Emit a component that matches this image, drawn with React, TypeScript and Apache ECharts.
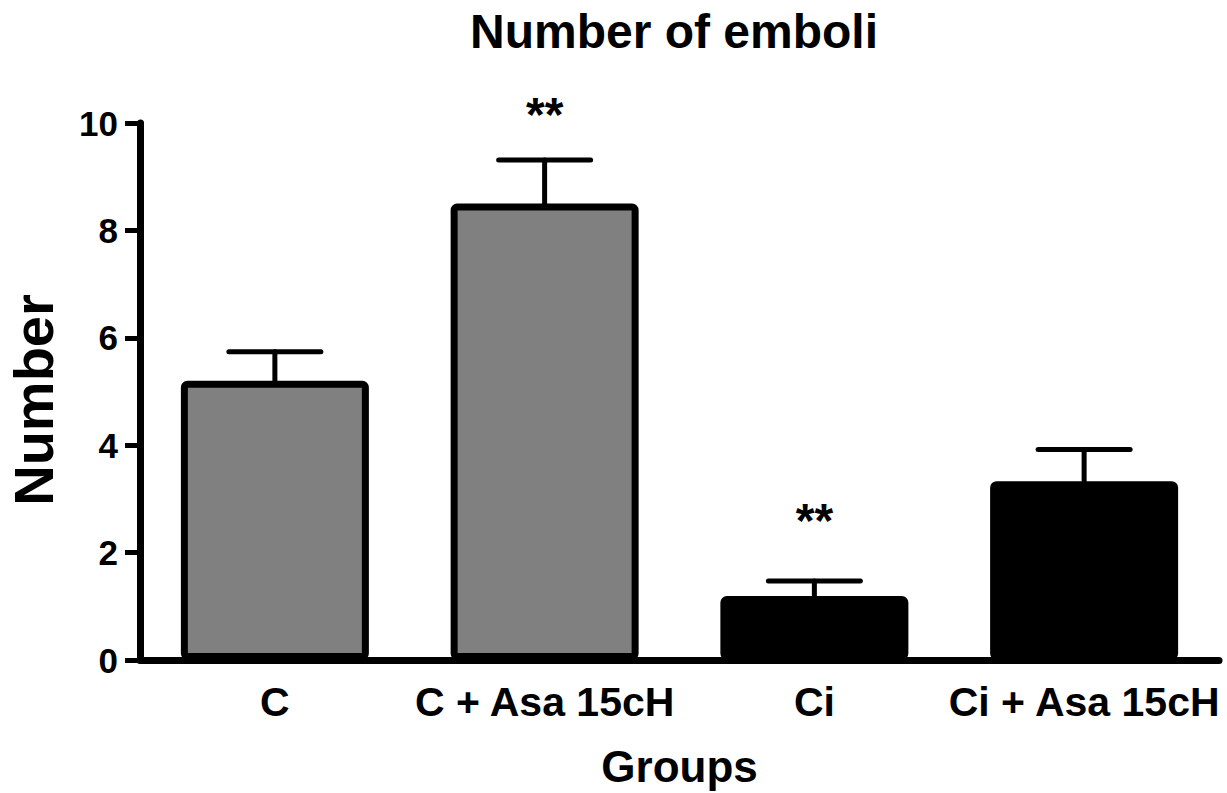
import React, { useEffect, useRef } from "react";
import * as echarts from "echarts";

const categories = ["C", "C + Asa 15cH", "Ci", "Ci + Asa 15cH"];
const means = [5.2, 8.5, 1.19, 3.33];
const sems = [0.54, 0.81, 0.28, 0.59];
const barColors = ["#808080", "#808080", "#000000", "#000000"];
const starLabels = ["", "**", "**", ""];
const starLevels = [0, 10.15, 2.6, 0];
const yTicks = [0, 2, 4, 6, 8, 10];

const FONT = "'Liberation Sans', Arial, Helvetica, sans-serif";

export default function App() {
  const ref = useRef<HTMLDivElement>(null);
  useEffect(() => {
    if (!ref.current) return;
    const chart = echarts.init(ref.current, null, { renderer: "svg" });
    const option: any = {
      animation: false,
      backgroundColor: "#ffffff",
      title: {
        text: "Number of emboli",
        left: 465,
        top: 2,
        textStyle: { fontFamily: FONT, fontSize: 48, fontWeight: "bold", color: "#000" },
      },
      graphic: [
        {
          type: "text",
          x: 33,
          y: 400,
          rotation: Math.PI / 2,
          style: {
            text: "Number",
            fontFamily: FONT,
            fontSize: 56,
            fontWeight: "bold",
            fill: "#000",
            align: "center",
            verticalAlign: "middle",
          },
        },
      ],
      grid: { left: 140, right: 8, top: 123, bottom: 132, containLabel: false },
      xAxis: {
        type: "category",
        data: categories,
        boundaryGap: true,
        name: "Groups",
        nameLocation: "middle",
        nameGap: 84,
        nameTextStyle: { fontFamily: FONT, fontSize: 44, fontWeight: "bold", color: "#000" },
        axisLine: { lineStyle: { color: "#000", width: 7 } },
        axisTick: { alignWithLabel: true, length: 14, lineStyle: { color: "#000", width: 5 } },
        axisLabel: {
          interval: 0,
          fontFamily: FONT,
          fontSize: 41,
          fontWeight: "bold",
          color: "#000",
          margin: 21,
        },
      },
      yAxis: {
        type: "value",
        min: yTicks[0],
        max: yTicks[yTicks.length - 1],
        interval: 2,
        axisLine: { show: true, lineStyle: { color: "#000", width: 7 } },
        axisTick: { show: true, length: 15, lineStyle: { color: "#000", width: 5 } },
        axisLabel: { fontFamily: FONT, fontSize: 35, fontWeight: "bold", color: "#000", margin: 22 },
        splitLine: { show: false },
      },
      series: [
        {
          type: "bar",
          barWidth: 188,
          data: means.map((v, i) => ({
            value: v,
            itemStyle: { color: barColors[i], borderColor: "#000", borderWidth: 7, borderRadius: 3 },
          })),
          z: 2,
        },
        {
          type: "custom",
          z: 3,
          data: means.map((v, i) => [i, v, v + sems[i]]),
          renderItem: (params: any, api: any) => {
            const base = api.coord([api.value(0), api.value(1)]);
            const top = api.coord([api.value(0), api.value(2)]);
            const half = 46;
            const style = { stroke: "#000", lineWidth: 5, lineCap: "round" };
            return {
              type: "group",
              children: [
                { type: "line", shape: { x1: base[0], y1: base[1], x2: top[0], y2: top[1] }, style },
                { type: "line", shape: { x1: top[0] - half, y1: top[1], x2: top[0] + half, y2: top[1] }, style },
              ],
            };
          },
        },
        {
          type: "custom",
          z: 4,
          data: starLevels.map((v, i) => [i, v]),
          renderItem: (params: any, api: any) => {
            const label = starLabels[params.dataIndex];
            if (!label) return null;
            const p = api.coord([api.value(0), api.value(1)]);
            return {
              type: "text",
              x: p[0],
              y: p[1],
              style: {
                text: label,
                fontFamily: FONT,
                fontSize: 48,
                fontWeight: "bold",
                fill: "#000",
                align: "center",
                verticalAlign: "middle",
              },
            };
          },
        },
      ],
    };
    chart.setOption(option);
    return () => chart.dispose();
  }, []);
  return (
    <div
      ref={ref}
      style={{ position: "fixed", left: 0, top: 0, width: 1227, height: 793, background: "#fff" }}
    />
  );
}
